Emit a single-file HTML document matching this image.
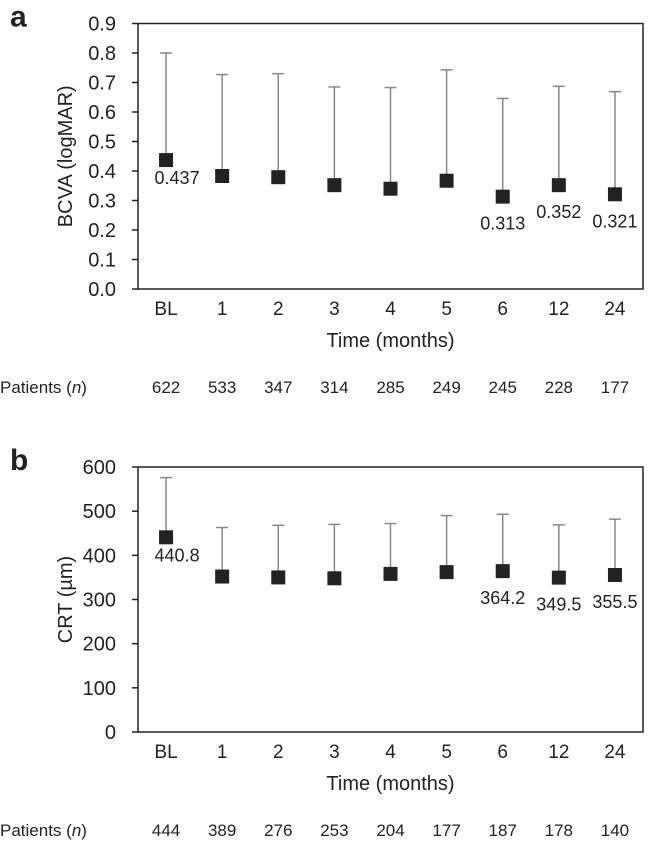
<!DOCTYPE html>
<html><head><meta charset="utf-8"><style>
body{margin:0;background:#fff}
svg text{font-family:"Liberation Sans",Arial,sans-serif;fill:#222}
</style></head><body>
<svg id="s" width="650" height="843"></svg>
<script>
const categories=["BL","1","2","3","4","5","6","12","24"];
const bcvaMean=[0.437,0.383,0.379,0.352,0.340,0.367,0.313,0.352,0.321];
const bcvaUpper=[0.800,0.727,0.730,0.685,0.683,0.743,0.646,0.687,0.669];
const bcvaLabels=["0.437","","","","","","0.313","0.352","0.321"];
const bcvaPatients=[622,533,347,314,285,249,245,228,177];
const bcvaTicks=[0,0.1,0.2,0.3,0.4,0.5,0.6,0.7,0.8,0.9];
const crtMean=[440.8,352,350,348,358,362,364.2,349.5,355.5];
const crtUpper=[576,463,468,470,472,490,493,469,482];
const crtLabels=["440.8","","","","","","364.2","349.5","355.5"];
const crtPatients=[444,389,276,253,204,177,187,178,140];
const crtTicks=[0,100,200,300,400,500,600];

const svg=document.getElementById('s');
const NS='http://www.w3.org/2000/svg';
function el(t,a,txt){const e=document.createElementNS(NS,t);for(const k in a)e.setAttribute(k,a[k]);if(txt!==undefined)e.textContent=txt;svg.appendChild(e);return e;}

function panel(p){
  const L=138,R=643,T=p.top,B=p.bottom;
  const step=(R-L)/categories.length;
  const x=i=>L+step*(i+0.5);
  const y=v=>B-(v-p.min)/(p.max-p.min)*(B-T);
  let e=el('text',{x:10,y:T+3,'font-size':30,'font-weight':'bold'},p.letter);
  
  
  e=el('rect',{x:L,y:T,width:R-L,height:B-T,fill:'none',stroke:'#222','stroke-width':1.5});
  
  
  p.ticks.forEach(t=>{
    el('line',{x1:L-6,x2:L,y1:y(t),y2:y(t),stroke:'#222','stroke-width':1.5});
    e=el('text',{x:L-22,y:y(t)+7,'text-anchor':'end','font-size':20},p.fmt(t));
    
    
  });
  e=el('text',{transform:`translate(${p.ytx},${(T+B)/2}) rotate(-90)`,'text-anchor':'middle','font-size':20},p.ytitle);
  
  
  categories.forEach((c,i)=>{
    const cx=x(i);
    e=el('line',{x1:cx,x2:cx,y1:y(p.mean[i]),y2:y(p.upper[i]),stroke:'#888','stroke-width':1.5});
    
    
    el('line',{x1:cx-6,x2:cx+6,y1:y(p.upper[i]),y2:y(p.upper[i]),stroke:'#888','stroke-width':1.5});
    e=el('rect',{x:cx-7,y:y(p.mean[i])-7,width:14,height:14,fill:'#222'});
    
    
    if(p.labels[i]){
      const first=i===0;
      e=el('text',{x:first?cx+11:cx,y:y(p.mean[i])+(first?24:33),'text-anchor':'middle','font-size':18},p.labels[i]);
      
      
    }
    e=el('text',{x:cx,y:B+26,'text-anchor':'middle','font-size':19},c);
    
    
    e=el('text',{x:cx,y:B+104,'text-anchor':'middle','font-size':17},p.patients[i]);
    
    
  });
  e=el('text',{x:(L+R)/2,y:B+58,'text-anchor':'middle','font-size':20},'Time (months)');
  
  
  e=el('text',{x:0,y:B+104,'font-size':17});
  e.innerHTML='Patients (<tspan font-style="italic">n</tspan>)';
  
  
}
panel({letter:'a',top:23.5,bottom:289,min:0,max:0.9,ticks:bcvaTicks,fmt:t=>t.toFixed(1),ytitle:'BCVA (logMAR)',ytx:72,mean:bcvaMean,upper:bcvaUpper,labels:bcvaLabels,patients:bcvaPatients});
panel({letter:'b',top:467,bottom:732,min:0,max:600,ticks:crtTicks,fmt:t=>String(t),ytitle:'CRT (µm)',ytx:72,mean:crtMean,upper:crtUpper,labels:crtLabels,patients:crtPatients});
</script>
</body></html>
